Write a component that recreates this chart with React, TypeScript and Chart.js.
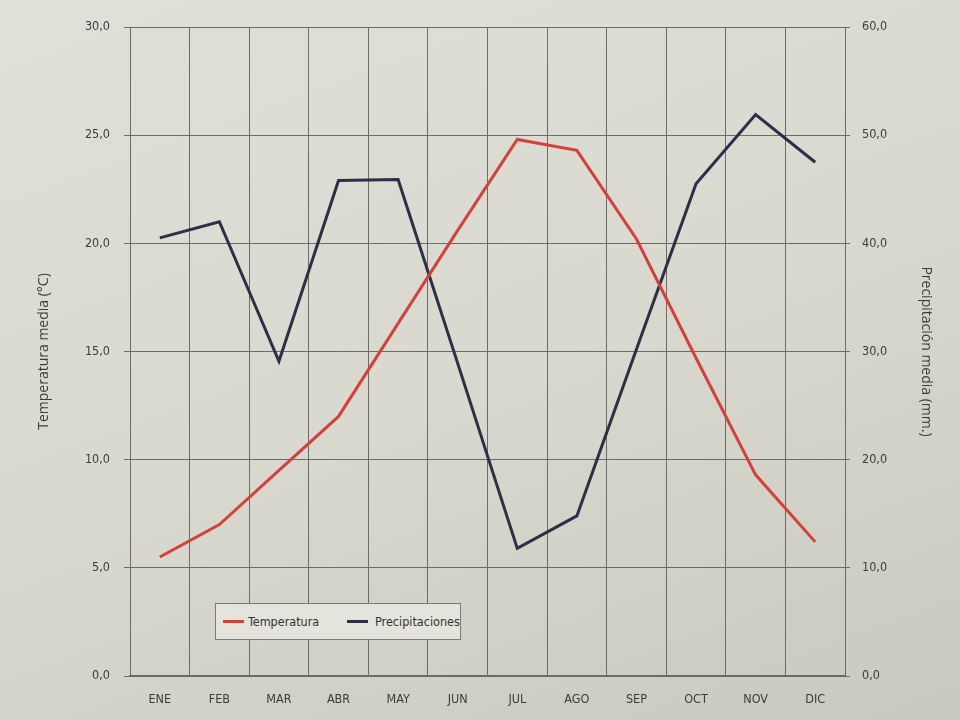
import React, { useEffect, useRef } from "react";
import { Chart, registerables } from "chart.js";

Chart.register(...registerables);

const months = ["ENE", "FEB", "MAR", "ABR", "MAY", "JUN", "JUL", "AGO", "SEP", "OCT", "NOV", "DIC"];
const temperatura = [5.5, 7.0, 9.5, 12.0, 16.3, 20.6, 24.8, 24.3, 20.2, 14.7, 9.3, 6.2];
const precipitaciones = [40.5, 42.0, 29.1, 45.8, 45.9, 28.9, 11.8, 14.8, 30.2, 45.5, 51.9, 47.5];

const TEMP_LABEL = "Temperatura";
const PREC_LABEL = "Precipitaciones";
const RED = "#d6403a";
const NAVY = "#2d2e48";
const GRID = "#6b6b68";
const TEXT = "#3c3c3a";
const NARROW = "'DejaVu Sans', sans-serif";
const TITLEFONT = "'Open Sans', 'Noto Sans', sans-serif";

const fmt = (v: number | string) => Number(v).toFixed(1).replace(".", ",");
const tickFont = { family: NARROW, size: 12.5, weight: "normal condensed" as any };

export default function App() {
  const ref = useRef<HTMLCanvasElement | null>(null);

  useEffect(() => {
    document.body.style.margin = "0";
    const canvas = ref.current;
    if (!canvas) return;
    const chart = new Chart(canvas, {
      type: "line",
      data: {
        labels: months,
        datasets: [
          {
            label: TEMP_LABEL,
            data: temperatura,
            borderColor: RED,
            backgroundColor: RED,
            borderWidth: 3,
            pointRadius: 0,
            tension: 0,
            yAxisID: "y",
          },
          {
            label: PREC_LABEL,
            data: precipitaciones,
            borderColor: NAVY,
            backgroundColor: NAVY,
            borderWidth: 3,
            pointRadius: 0,
            tension: 0,
            yAxisID: "y1",
          },
        ],
      },
      options: {
        responsive: false,
        animation: false,
        layout: { padding: { top: 27, left: 0, right: 0, bottom: 0 } },
        plugins: {
          legend: { display: false },
          tooltip: { enabled: false },
        },
        scales: {
          x: {
            offset: true,
            grid: {
              offset: true,
              color: GRID,
              lineWidth: 1,
              drawTicks: false,
            },
            border: { color: GRID, width: 1.5 },
            ticks: {
              color: TEXT,
              padding: 16,
              font: tickFont,
              maxRotation: 0,
            },
            afterFit: (s: any) => {
              s.height = 44;
            },
          },
          y: {
            position: "left",
            min: 0,
            max: 30,
            ticks: {
              stepSize: 5,
              color: TEXT,
              padding: 14,
              font: tickFont,
              callback: (v: any) => fmt(v),
            },
            grid: { color: GRID, lineWidth: 1, tickLength: 6 },
            border: { color: GRID, width: 1 },
            title: {
              display: true,
              text: "Temperatura media (°C)",
              color: TEXT,
              font: { family: TITLEFONT, size: 14 },
              padding: { top: 36, bottom: 0 },
            },
            afterFit: (s: any) => {
              s.width = 130;
            },
          },
          y1: {
            position: "right",
            min: 0,
            max: 60,
            ticks: {
              stepSize: 10,
              color: TEXT,
              padding: 12,
              font: tickFont,
              callback: (v: any) => fmt(v),
            },
            grid: { drawOnChartArea: false, color: GRID, tickLength: 5 },
            border: { color: GRID, width: 1 },
            title: {
              display: true,
              text: "Precipitación media (mm.)",
              color: TEXT,
              font: { family: TITLEFONT, size: 14 },
              padding: { top: 26, bottom: 0 },
            },
            afterFit: (s: any) => {
              s.width = 115;
            },
          },
        },
      },
    });
    return () => chart.destroy();
  }, []);

  const legendItems = [
    { label: TEMP_LABEL, color: RED },
    { label: PREC_LABEL, color: NAVY },
  ];

  return (
    <div
      style={{
        position: "relative",
        width: 960,
        height: 720,
        background: "linear-gradient(160deg, #e0e0d8 0%, #d9d9d0 50%, #c9c9bf 100%)",
        overflow: "hidden",
      }}
    >
      <canvas ref={ref} width={960} height={720} style={{ display: "block" }} />
      <div
        style={{
          position: "absolute",
          left: 215,
          top: 603,
          width: 246,
          height: 37,
          border: "1px solid #7a7a76",
          background: "#e4e4dd",
          boxSizing: "border-box",
          fontFamily: NARROW,
          fontStretch: "condensed",
          fontSize: 12.5,
          color: "#333",
        }}
      >
        {legendItems.map((it, i) => (
          <div
            key={it.label}
            style={{
              position: "absolute",
              left: i === 0 ? 7 : 131,
              top: 10,
              display: "flex",
              alignItems: "center",
              whiteSpace: "nowrap",
            }}
          >
            <span style={{ display: "inline-block", width: 21, height: 3, background: it.color, marginRight: i === 0 ? 4 : 7 }} />
            <span>{it.label}</span>
          </div>
        ))}
      </div>
    </div>
  );
}
